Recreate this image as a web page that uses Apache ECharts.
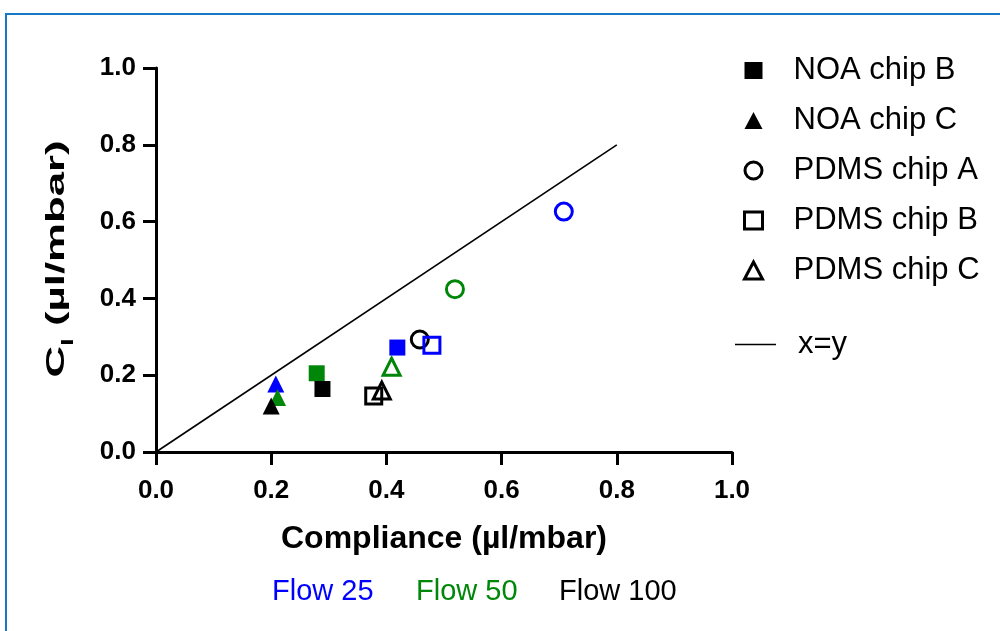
<!DOCTYPE html>
<html>
<head>
<meta charset="utf-8">
<title>Compliance</title>
<script src="https://cdn.jsdelivr.net/npm/echarts@6/dist/echarts.min.js"></script>
<style>
  html, body { margin: 0; padding: 0; background: #fff; }
  #main { width: 1000px; height: 631px; }
</style>
</head>
<body>
<div id="main"></div>
<script>
// values, order of each array: flow 25, flow 50, flow 100
const flows = ['Flow 25', 'Flow 50', 'Flow 100'];
const noaB_x = [0.419, 0.279, 0.289];
const noaB_y = [0.272, 0.205, 0.164];
const noaC_x = [0.208, 0.211, 0.200];
const noaC_y = [0.177, 0.142, 0.120];
const pdmsA_x = [0.708, 0.519, 0.458];
const pdmsA_y = [0.626, 0.424, 0.293];
const pdmsB_x = [0.479, null, 0.378];
const pdmsB_y = [0.278, null, 0.146];
const pdmsC_x = [null, 0.409, 0.392];
const pdmsC_y = [null, 0.222, 0.160];
const identity_x = [0, 0.8];

const flowColors = ['#0000ff', '#00870a', '#000000'];
const font = "'Liberation Sans', Arial, sans-serif";

const myChart = echarts.init(document.getElementById('main'));

function points(xs, ys, open) {
    const out = [];
    xs.forEach((x, i) => {
        if (x == null) return;
        const c = flowColors[i];
        out.push({
            value: [x, ys[i]],
            itemStyle: open
                ? { color: 'transparent', borderColor: c, borderWidth: 3, opacity: 1 }
                : { color: c, borderWidth: 0, opacity: 1 }
        });
    });
    return out;
}

const chips = [
    { name: 'NOA chip B', xs: noaB_x, ys: noaB_y, symbol: 'rect', size: 16, open: false },
    { name: 'NOA chip C', xs: noaC_x, ys: noaC_y, symbol: 'triangle', size: [17, 17], open: false },
    { name: 'PDMS chip A', xs: pdmsA_x, ys: pdmsA_y, symbol: 'circle', size: 17, open: true },
    { name: 'PDMS chip B', xs: pdmsB_x, ys: pdmsB_y, symbol: 'rect', size: 16, open: true },
    { name: 'PDMS chip C', xs: pdmsC_x, ys: pdmsC_y, symbol: 'triangle', size: [17, 17], open: true }
];

const series = chips.map(c => ({
    name: c.name,
    type: 'scatter',
    symbol: c.symbol,
    symbolSize: c.size,
    itemStyle: c.open
        ? { color: 'transparent', borderColor: '#000', borderWidth: 3, opacity: 1 }
        : { color: '#000', opacity: 1 },
    data: points(c.xs, c.ys, c.open),
    z: 3
}));

series.unshift({
    name: 'x=y',
    type: 'line',
    symbol: 'none',
    lineStyle: { color: '#000', width: 1.6 },
    data: identity_x.map(v => [v, v]),
    z: 2
});

const tickText = { fontFamily: font, fontWeight: 'bold', fontSize: 26, color: '#000' };
const axisCommon = {
    type: 'value',
    min: 0,
    max: 1,
    interval: 0.2,
    axisLine: { show: true, lineStyle: { color: '#000', width: 3 } },
    axisTick: { show: true, length: 13, lineStyle: { color: '#000', width: 3 } },
    splitLine: { show: false },
    nameLocation: 'middle'
};

const options = {
    animation: false,
    backgroundColor: '#fff',
    grid: { left: 156, right: 268, top: 68, bottom: 179 },
    xAxis: Object.assign({}, axisCommon, {
        name: 'Compliance (µl/mbar)',
        nameGap: 71,
        nameTextStyle: { fontFamily: font, fontWeight: 'bold', fontSize: 32, color: '#000' },
        axisLabel: Object.assign({ margin: 26, formatter: v => v.toFixed(1) }, tickText)
    }),
    yAxis: Object.assign({}, axisCommon, {
        axisLabel: Object.assign({ margin: 20, formatter: v => v.toFixed(1) }, tickText)
    }),
    legend: [{
        orient: 'vertical',
        left: 738,
        top: 49,
        itemWidth: 18,
        itemHeight: 17,
        itemGap: 17,
        textStyle: { fontFamily: font, fontSize: 31, color: '#000', lineHeight: 33, padding: [0, 0, 0, 26] },
        data: [
            { name: 'NOA chip B', icon: 'rect', itemStyle: { color: '#000', borderWidth: 0 } },
            { name: 'NOA chip C', icon: 'triangle', itemStyle: { color: '#000', borderWidth: 0 } },
            { name: 'PDMS chip A', icon: 'circle', itemStyle: { color: 'transparent', borderColor: '#000', borderWidth: 3 } },
            { name: 'PDMS chip B', icon: 'rect', itemStyle: { color: 'transparent', borderColor: '#000', borderWidth: 3 } },
            { name: 'PDMS chip C', icon: 'triangle', itemStyle: { color: 'transparent', borderColor: '#000', borderWidth: 3 } }
        ]
    }, {
        orient: 'vertical',
        left: 730,
        top: 323,
        itemWidth: 41,
        itemHeight: 1.6,
        textStyle: { fontFamily: font, fontSize: 31, color: '#000', lineHeight: 33, padding: [0, 0, 0, 17] },
        data: [{ name: 'x=y', icon: 'rect', itemStyle: { color: '#000', borderWidth: 0 } }]
    }],
    graphic: [
        {
            type: 'rect',
            shape: { x: 6, y: 14, width: 1100, height: 700 },
            style: { fill: 'none', stroke: '#1878c8', lineWidth: 2 },
            silent: true
        },
        {
            // y axis title, stretched along its length as in the original
            type: 'text',
            x: 57,
            y: 259,
            rotation: Math.PI / 2,
            scaleX: 1.75,
            style: {
                text: '{c|C}{s|l}{c| (µl/mbar)}',
                align: 'center',
                verticalAlign: 'middle',
                rich: {
                    c: { fontFamily: font, fontWeight: 'bold', fontSize: 25, fill: '#000', lineHeight: 40 },
                    s: { fontFamily: font, fontWeight: 'bold', fontSize: 16, fill: '#000', lineHeight: 40, verticalAlign: 'bottom' }
                }
            }
        },
        {
            type: 'group',
            left: 272,
            top: 577,
            children: flows.map((f, i) => ({
                type: 'text',
                x: [0, 144, 287][i],
                y: 0,
                style: { text: f, fill: flowColors[i], font: '29px ' + font }
            }))
        }
    ],
    series: series
};

myChart.setOption(options);
</script>
</body>
</html>
